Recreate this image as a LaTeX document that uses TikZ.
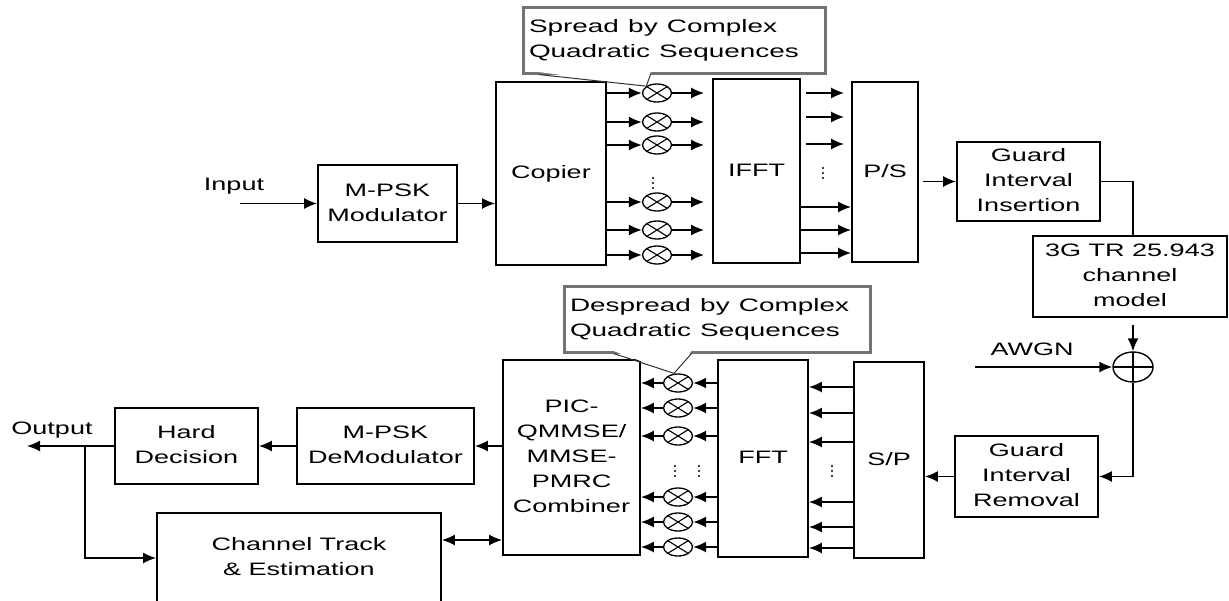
\documentclass[tikz,border=0pt]{standalone}
\usepackage{fontspec}
\setmainfont{Liberation Sans}
\usepackage{graphicx}
\usetikzlibrary{arrows.meta,shapes.geometric,calc}

\newcommand{\wtext}[1]{\scalebox{1.5}[1]{\begin{tabular}{@{}c@{}}#1\end{tabular}}}
\newcommand{\wnote}[1]{\scalebox{1.55}[1]{\begin{tabular}{@{}l@{}}#1\end{tabular}}}

\begin{document}
\begin{tikzpicture}[x=1pt, y=-1pt,
    every node/.style={font=\fontsize{18}{25}\selectfont},
    box/.style={draw, line width=1.8pt, inner sep=0pt},
    mult/.style={ellipse, draw, line width=1.3pt, minimum width=29pt, minimum height=18pt, inner sep=0pt,
        path picture={\draw[line width=1.1pt] (path picture bounding box.north west) -- (path picture bounding box.south east)
            (path picture bounding box.north east) -- (path picture bounding box.south west);}},
    summer/.style={ellipse, draw, line width=1.4pt, minimum width=40pt, minimum height=30pt, inner sep=0pt,
        path picture={\draw[line width=1.3pt] (path picture bounding box.north) -- (path picture bounding box.south)
            (path picture bounding box.west) -- (path picture bounding box.east);}},
    note/.style={draw=black!55, line width=3pt, inner xsep=6pt, inner ysep=0pt, minimum height=66pt, align=left},
    pointer/.style={line width=1pt, black!80},
    arr/.style={line width=1.6pt, -{Latex[length=13pt,width=11pt]}},
    dbl/.style={line width=1.6pt, {Latex[length=13pt,width=11pt]}-{Latex[length=13pt,width=11pt]}}]

    \useasboundingbox (0,0) rectangle (1229,600);
    \clip (0,0) rectangle (1229,600);

    % Transmitter
    \node (inlabel) at (234,185) {\wtext{Input}};
    \coordinate (in) at (240,203.5);
    \node[box, minimum width=139pt, minimum height=77pt] (mod) at (387.5,203.5) {\wtext{M-PSK\\Modulator}};
    \node[box, minimum width=110pt, minimum height=183pt] (copier) at (551,173.5) {\wtext{Copier}};

    % Spreading multipliers
    \foreach \y [count=\i] in {93,122,145,202,230,255}
        \node[mult] (m\i) at (657,\y) {};

    \node[box, minimum width=87pt, minimum height=184pt] (ifft) at (756.5,171) {\wtext{IFFT}};
    \node[box, minimum width=66pt, minimum height=180pt] (ps) at (885,172) {\wtext{P/S}};
    \node[box, minimum width=143pt, minimum height=79pt] (gii) at (1028.5,181.5) {\wtext{Guard\\Interval\\Insertion}};

    % Channel
    \node[box, minimum width=194pt, minimum height=81pt] (chan) at (1130,276.5) {\wtext{3G TR 25.943\\channel\\model}};
    \node[summer] (adder) at (1133,367) {};
    \node (awgn) at (1032,350) {\wtext{AWGN}};
    \coordinate (noise) at (975,367);

    % Receiver
    \node[box, minimum width=143pt, minimum height=81pt] (gir) at (1026.5,476.5) {\wtext{Guard\\Interval\\Removal}};
    \node[box, minimum width=70pt, minimum height=196pt] (sp) at (889,460) {\wtext{S/P}};
    \node[box, minimum width=90pt, minimum height=197pt] (fft) at (763,458.5) {\wtext{FFT}};

    % Despreading multipliers
    \foreach \y [count=\i] in {383,408,436,497,522,547}
        \node[mult] (d\i) at (678,\y) {};

    \node[box, minimum width=137pt, minimum height=195pt] (comb) at (571.5,457.5) {\wtext{PIC-\\QMMSE/\\MMSE-\\PMRC\\Combiner}};
    \node[box, minimum width=177pt, minimum height=76pt] (demod) at (385.5,446) {\wtext{M-PSK\\DeModulator}};
    \node[box, minimum width=143pt, minimum height=76pt] (hard) at (186.5,446) {\wtext{Hard\\Decision}};
    \node[box, minimum width=284pt, minimum height=90pt] (track) at (299,558) {\wtext{Channel Track\\\& Estimation}};
    \node (outlabel) at (52,429) {\wtext{Output}};
    \coordinate (out) at (27,446);
    \coordinate (split) at (85,446);

    % Callouts
    \node[note, text width=290pt] (spreadnote) at (674,40) {\wnote{Spread by Complex\\Quadratic Sequences}};
    \fill[white] ($(spreadnote.south west)+(17,-2.5)$) -- (m1.north west) -- ($(spreadnote.south west)+(129,-2.5)$) -- cycle;
    \draw[pointer] ($(spreadnote.south west)+(17,0)$) -- (m1.north west) -- ($(spreadnote.south west)+(129,0)$);

    \node[note, text width=294pt] (despreadnote) at (717,319) {\wnote{Despread by Complex\\Quadratic Sequences}};
    \fill[white] ($(despreadnote.south west)+(51,-2.5)$) -- ($(d1.north)+(-4,0)$) -- ($(despreadnote.south west)+(129,-2.5)$) -- cycle;
    \draw[pointer] ($(despreadnote.south west)+(51,0)$) -- ($(d1.north)+(-4,0)$) -- ($(despreadnote.south west)+(129,0)$);

    % Transmitter connections
    \draw[arr] (in) -- (mod.west);
    \draw[arr] (mod.east) -- (mod.east -| copier.west);
    \foreach \i in {1,...,6} {
        \draw[arr] (copier.east |- m\i) -- (m\i.west);
        \draw[arr, shorten >=8pt] (m\i.east) -- (ifft.west |- m\i);
    }
    \foreach \y in {93,117,144}
        \draw[arr] ($(ifft.east |- 0,\y)+(5,0)$) -- ($(ps.west |- 0,\y)+(-7,0)$);
    \foreach \y in {207,230,253}
        \draw[arr] (ifft.east |- 0,\y) -- (ps.west |- 0,\y);
    \draw[arr, shorten <=4pt] (ps.east |- gii.west) -- (gii.west);

    % Channel connections
    \draw[line width=1.6pt] (gii.east) -| (chan.north -| adder);
    \draw[arr, shorten <=7pt] (chan.south -| adder) -- (adder.north);
    \draw[arr] (noise) -- (adder.west);
    \draw[arr] (adder.south) |- (gir.east);

    % Receiver connections
    \draw[arr] (gir.west) -- (gir.west -| sp.east);
    \foreach \y in {387,413,442,502,527,548}
        \draw[arr] (sp.west |- 0,\y) -- (fft.east |- 0,\y);
    \foreach \i in {1,...,6} {
        \draw[arr] (fft.west |- d\i) -- (d\i.east);
        \draw[arr] (d\i.west) -- (comb.east |- d\i);
    }
    \draw[arr] (comb.west |- demod.east) -- (demod.east);
    \draw[arr] (demod.west) -- (hard.east);
    \draw[arr] (hard.west) -- (out);
    \draw[arr] (split) |- (track.west);
    \draw[dbl] (track.east |- 0,540) -- (comb.west |- 0,540);

    % Dots
    \foreach \x/\y in {653/178, 823/168, 675/466, 699/466, 832/466}
        \foreach \k in {0,1,2}
            \fill (\x,\y+5*\k) circle (1.2pt);
\end{tikzpicture}
\end{document}
